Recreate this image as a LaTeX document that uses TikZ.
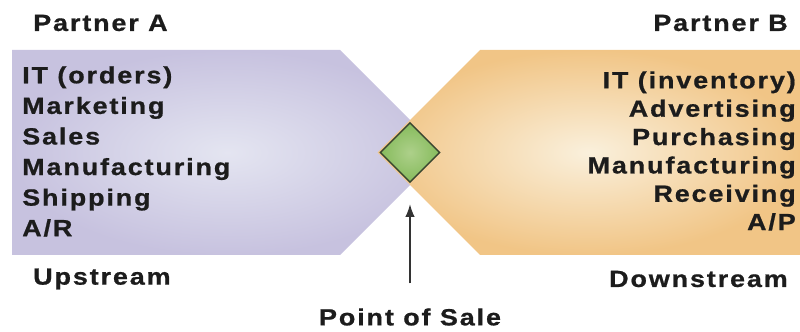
\documentclass[tikz,border=0pt]{standalone}
\usepackage{fontspec}
\usepackage{xcolor}
\usepackage{tikz}
\usetikzlibrary{arrows.meta, shapes.geometric}
\newfontfamily\labelfont[FakeStretch=1.15, LetterSpace=8, FakeBold=0.8]{Liberation Sans}
\definecolor{plav}{HTML}{C7C2DF}
\definecolor{plavlight}{HTML}{E4E5F1}
\definecolor{porange}{HTML}{F1C586}
\definecolor{porangelight}{HTML}{FAF0DC}
\definecolor{pgreen}{HTML}{86BB5C}
\definecolor{pgreenlight}{HTML}{ADD08A}
\definecolor{pgreendark}{HTML}{3A4630}
\definecolor{ptext}{HTML}{1C1C1C}

\begin{document}
\begin{tikzpicture}[x=0.03cm, y=0.03cm,
  lbl/.style={font=\labelfont\bfseries\fontsize{20}{25.2}\selectfont, text=ptext, inner sep=0pt},
  pointer/.style={-{Latex[length=0.38cm, width=0.28cm]}, draw=ptext!90, line width=1pt}]
\useasboundingbox (0,0) rectangle (800,331);
% partner A (upstream side)
\shade[inner color=plavlight, outer color=plav]
  (12,281) -- (340,281) -- (442.5,178.5) -- (340,76) -- (12,76) -- cycle;
% partner B (downstream side)
\shade[inner color=porangelight, outer color=porange]
  (800,281) -- (480,281) -- (377.5,178.5) -- (480,76) -- (800,76) -- cycle;
\node[diamond, minimum width=1.8cm, minimum height=1.8cm, inner sep=0pt,
  draw=pgreendark, line width=1.2pt, inner color=pgreenlight, outer color=pgreen]
  (pos) at (410,178.5) {};
\node[lbl, anchor=west] (partnerA) at (33,308) {Partner A};
\node[lbl, anchor=east] (partnerB) at (788,308) {Partner B};
\node[lbl, anchor=west, align=left, font=\labelfont\bfseries\fontsize{20}{26.1}\selectfont]
  (listA) at (22,179.5)
  {IT (orders)\\Marketing\\Sales\\Manufacturing\\Shipping\\A/R};
\node[lbl, anchor=east, align=right, font=\labelfont\bfseries\fontsize{20}{24.2}\selectfont]
  (listB) at (796,180)
  {IT (inventory)\\Advertising\\Purchasing\\Manufacturing\\Receiving\\A/P};
\node[lbl, anchor=west] (up) at (33,52) {Upstream};
\node[lbl, anchor=east] (down) at (788,52) {Downstream};
\node[lbl] (sale) at (410,14) {Point of Sale};
\draw[pointer, shorten <=0.74cm, shorten >=0.63cm] (sale) -- (pos);
\end{tikzpicture}
\end{document}
